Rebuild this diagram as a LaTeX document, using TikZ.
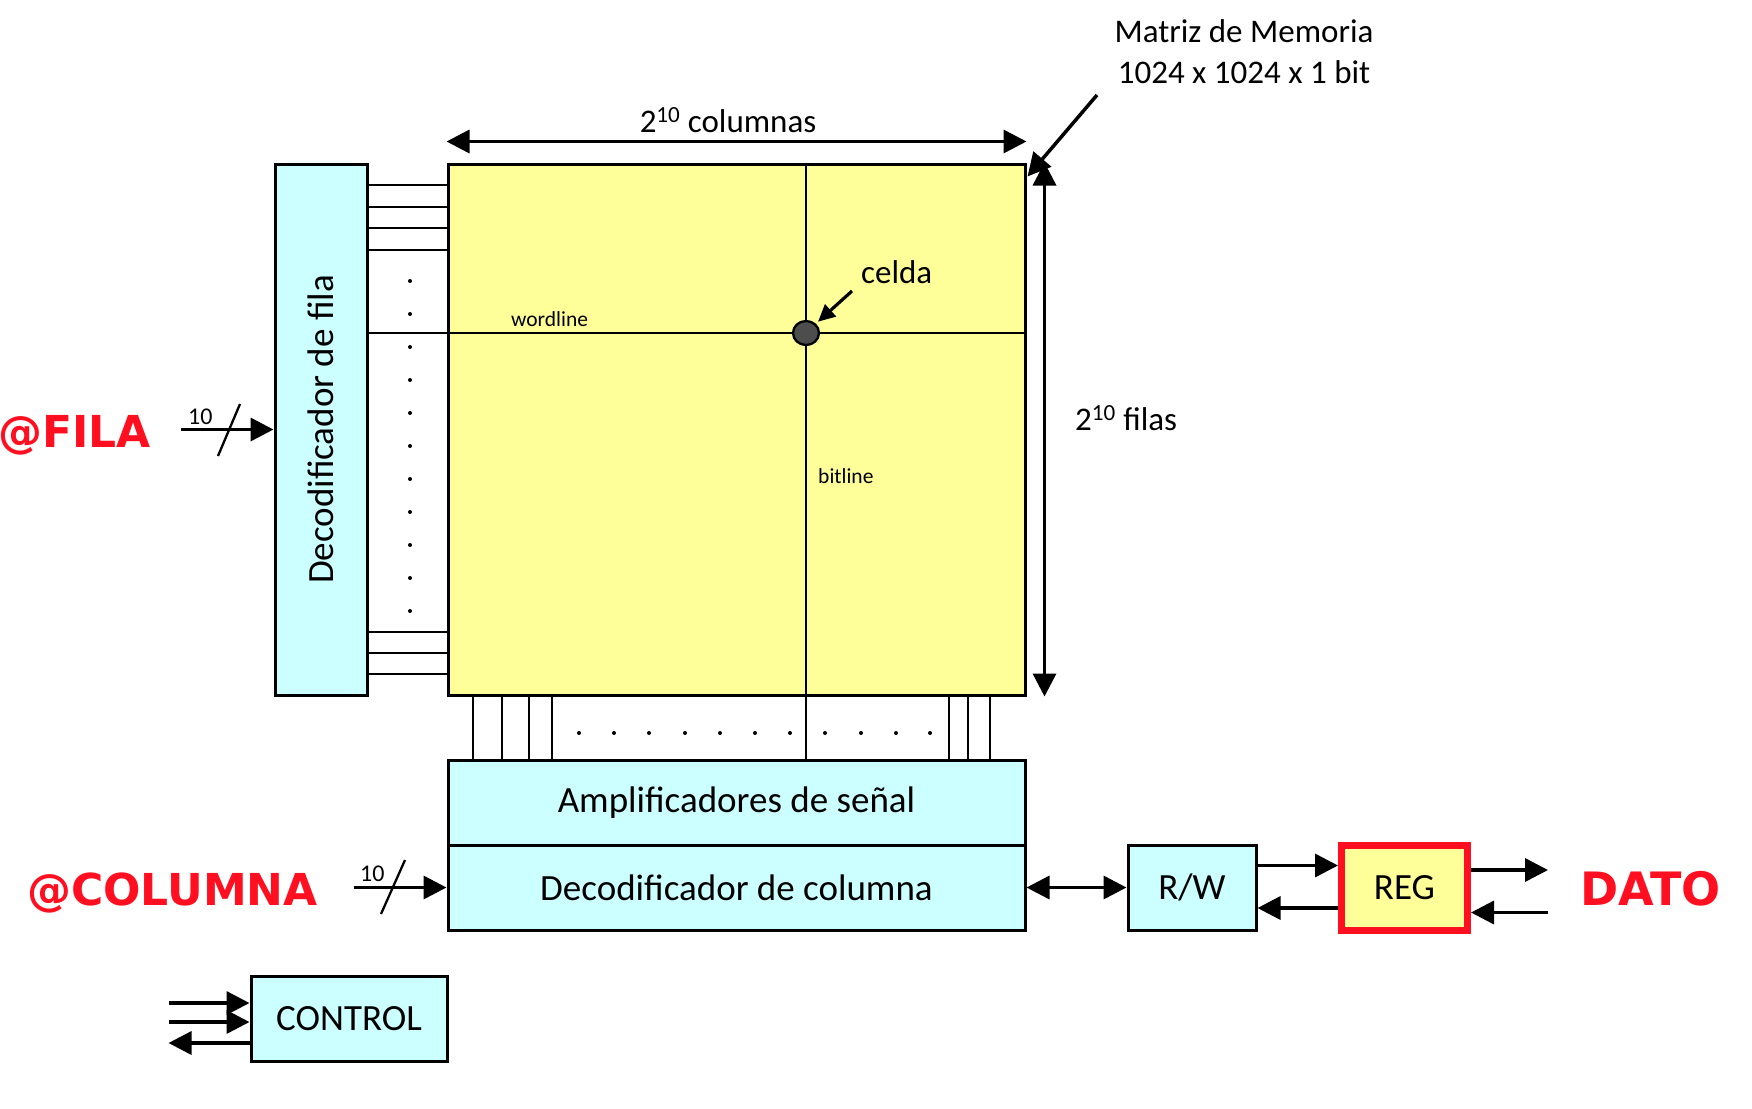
\documentclass[tikz,border=0pt]{standalone}
\usepackage{fontspec}
\setmainfont{Carlito}
\newfontfamily\redfont{DejaVu Sans Bold}
\usetikzlibrary{arrows.meta,shapes.geometric}
\definecolor{cyanfill}{HTML}{CCFFFF}
\definecolor{yellowfill}{HTML}{FFFF99}
\definecolor{redlbl}{HTML}{FF0F1F}
\definecolor{cellgray}{HTML}{4D4D4D}
\begin{document}
\begin{tikzpicture}[x=1pt,y=-1pt,
  box/.style={draw=black, line width=3pt, fill=cyanfill, inner sep=0pt, font=\fontsize{37}{44}\selectfont},
  wire/.style={line width=2.3pt},
  arr/.style={line width=3.5pt, -{Triangle[length=23pt,width=23pt]}},
  darr/.style={line width=3.5pt, {Triangle[length=23pt,width=23pt]}-{Triangle[length=23pt,width=23pt]}},
  arrsmall/.style={line width=3.2pt, -{Triangle[length=17pt,width=16pt]}},
  lbl/.style={inner sep=0pt, font=\fontsize{33}{40}\selectfont},
  smalllbl/.style={inner sep=0pt, font=\fontsize{21.5}{26}\selectfont},
  buslbl/.style={inner sep=0pt, font=\fontsize{24}{28}\selectfont},
  redtxt/.style={inner sep=0pt, text=redlbl, font=\redfont\fontsize{44}{52}\selectfont},
  slash/.style={line width=2.3pt}
]
\useasboundingbox (0,0) rectangle (1752,1108);

% blocks (placed by their centres)
\node[box, minimum width=92pt, minimum height=531pt] (fila) at (321,429.5) {\rotatebox{90}{Decodificador de fila}};
\node[box, fill=yellowfill, minimum width=577pt, minimum height=531pt] (mat) at (736.5,429.5) {};
\node[box, minimum width=577pt, minimum height=85pt] (amp) at (736.5,802.5) {Amplificadores de señal};
\node[box, minimum width=577pt, minimum height=85pt] (coldec) at (736.5,887.5) {Decodificador de columna};
\node[box, minimum width=128pt, minimum height=85pt] (rw) at (1192,887.5) {R/W};
\node[box, draw=redlbl, line width=7pt, fill=yellowfill, minimum width=126pt, minimum height=85pt] (reg) at (1404.5,887.5) {REG};
\node[box, minimum width=196pt, minimum height=85pt] (ctrl) at (349,1019) {CONTROL};

% cell position
\coordinate (cellpos) at (806,333);

% row wires
\foreach \y in {185,207,228,250,632,653,674}
  \draw[wire] (fila.east |- 0,\y) -- (mat.west |- 0,\y);
\foreach \y in {281,314,347,380,413,446,479,512,545,578,611}
  \fill (410,\y) circle (2pt);

% wordline and bitline
\draw[wire] (fila.east |- cellpos) -- (mat.east |- cellpos);
\draw[wire] (mat.north -| cellpos) -- (amp.north -| cellpos);

% column wires
\foreach \x in {473,502,529,552,949,968,990}
  \draw[wire] (mat.south -| \x,0) -- (amp.north -| \x,0);
\foreach \x in {579,614,649,685,720,755,790,825,861,896,930}
  \fill (\x,733) circle (2pt);

% cell
\node[draw=black, line width=2.3pt, fill=cellgray, ellipse, minimum width=26pt, minimum height=24pt, inner sep=0pt] (cell) at (cellpos) {};

% labels inside matrix
\node[smalllbl, anchor=base west] (wordlbl) at (511,326) {wordline};
\node[smalllbl, anchor=base west] (bitlbl) at (818,483) {bitline};
\node[lbl, anchor=base west] (celdalbl) at (861,283) {celda};
\coordinate (celdaptr) at (852,291);
\draw[arrsmall] (celdaptr) -- ([xshift=2pt,yshift=2pt]cell.north east);

% dimension arrows
\draw[darr] ([yshift=21pt]mat.north west) -- ([yshift=21pt]mat.north east);
\node[lbl, anchor=base] (colslbl) at (728,132) {2\textsuperscript{10} columnas};
\draw[darr] ([xshift=18pt]mat.north east) -- ([xshift=18pt]mat.south east);
\node[lbl, anchor=base west] (filaslbl) at (1075,430) {2\textsuperscript{10} filas};

% matrix title
\node[lbl, anchor=base] (mat1) at (1244,43) {Matriz de Memoria};
\node[lbl, anchor=base] (mat2) at (1244,83) {1024 x 1024 x 1 bit};
\coordinate (matptr) at (1097,95);
\draw[arr] (matptr) -- ([xshift=1pt,yshift=-14pt]mat.north east);

% row address
\node[redtxt, anchor=base west] (filaaddr) at (-2,447) {@FILA};
\coordinate (filain) at ([xshift=-93pt]fila.west);
\draw[arr] (filain) -- (fila.west);
\draw[slash] (218,456) -- (240,404);
\node[buslbl, anchor=base west] (fila10) at (188,424) {10};

% column address
\node[redtxt, anchor=base west] (coladdr) at (27,905) {@COLUMNA};
\coordinate (colin) at ([xshift=-93pt]coldec.west);
\draw[arr] (colin) -- (coldec.west);
\draw[slash] (381,914) -- (405,860);
\node[buslbl, anchor=base west] (col10) at (360,881) {10};

% data path
\draw[darr] (coldec.east) -- (rw.west);
\draw[arr] ([yshift=22pt]rw.east) -- ([yshift=22pt]reg.west);
\draw[arr] ([yshift=-20.5pt]reg.west) -- ([yshift=-20.5pt]rw.east);
\coordinate (datoout) at ([xshift=77pt,yshift=17.5pt]reg.east);
\coordinate (datoin) at ([xshift=77pt,yshift=-25pt]reg.east);
\draw[arr] ([yshift=17.5pt]reg.east) -- (datoout);
\draw[arr] (datoin) -- ([yshift=-25pt]reg.east);
\node[redtxt, font=\redfont\fontsize{46}{54}\selectfont, anchor=base west] (dato) at (1580,905) {DATO};

% control
\coordinate (c1) at ([xshift=-81pt,yshift=16pt]ctrl.west);
\coordinate (c2) at ([xshift=-81pt,yshift=-3pt]ctrl.west);
\coordinate (c3) at ([xshift=-81pt,yshift=-24pt]ctrl.west);
\draw[arr] (c1) -- ([yshift=16pt]ctrl.west);
\draw[arr] (c2) -- ([yshift=-3pt]ctrl.west);
\draw[arr] ([yshift=-24pt]ctrl.west) -- (c3);
\end{tikzpicture}
\end{document}
